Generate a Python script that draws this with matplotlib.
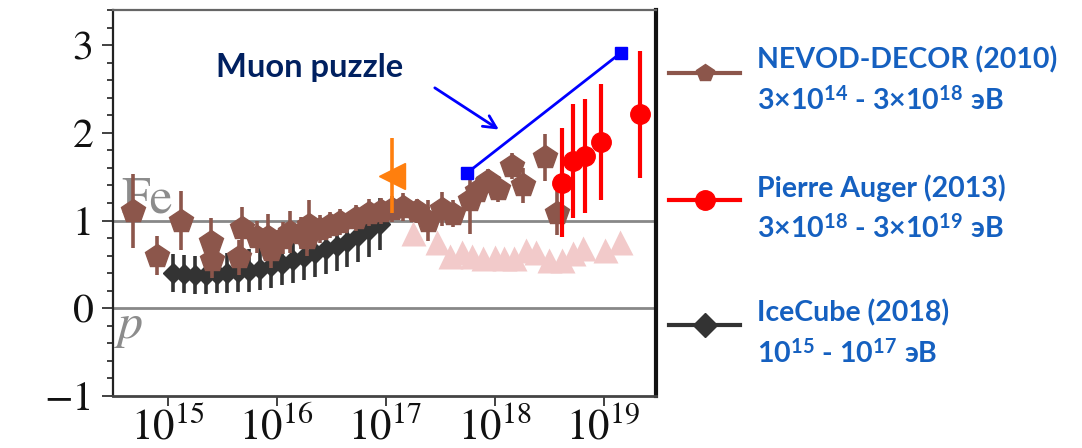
import numpy as np
import matplotlib
matplotlib.use("Agg")
import matplotlib.pyplot as plt
from matplotlib.lines import Line2D
from matplotlib.ticker import MultipleLocator, NullLocator, FixedLocator

# ---------------- data (log10 E [eV], z-value, errors) ----------------
nevod_logE = [14.68, 14.90, 15.12, 15.40, 15.41, 15.68, 15.66, 15.82, 15.92, 15.95,
              16.06, 16.12, 16.22, 16.30, 16.28, 16.40, 16.49, 16.58, 16.73, 16.85,
              16.96, 17.06, 17.16, 17.29, 17.39, 17.52, 17.62, 17.77, 17.84, 17.94,
              18.03, 18.16, 18.26, 18.46, 18.57]
nevod_z = [1.11, 0.60, 1.00, 0.75, 0.55, 0.91, 0.58, 0.81, 0.81, 0.66,
           0.80, 0.87, 0.86, 0.95, 0.80, 0.90, 0.95, 0.98, 1.03, 1.09,
           1.11, 1.13, 1.15, 1.11, 1.00, 1.13, 1.08, 1.23, 1.34, 1.45,
           1.36, 1.62, 1.40, 1.72, 1.09]
nevod_err = [0.42, 0.22, 0.34, 0.28, 0.20, 0.24, 0.20, 0.18, 0.27, 0.20,
             0.18, 0.24, 0.18, 0.28, 0.20, 0.16, 0.15, 0.15, 0.15, 0.15,
             0.15, 0.15, 0.16, 0.14, 0.23, 0.19, 0.15, 0.38, 0.15, 0.14,
             0.15, 0.15, 0.20, 0.27, 0.25]

ice_logE = [15.05, 15.15, 15.25, 15.35, 15.45, 15.55, 15.65, 15.75, 15.85, 15.95,
            16.05, 16.15, 16.25, 16.35, 16.45, 16.55, 16.65, 16.75, 16.85, 16.95]
ice_z = [0.40, 0.39, 0.38, 0.38, 0.39, 0.40, 0.41, 0.43, 0.45, 0.48,
         0.51, 0.55, 0.59, 0.63, 0.67, 0.71, 0.76, 0.82, 0.89, 0.96]
ice_err = [0.22, 0.22, 0.22, 0.22, 0.22, 0.23, 0.23, 0.24, 0.24, 0.25,
           0.25, 0.26, 0.27, 0.27, 0.28, 0.28, 0.29, 0.29, 0.30, 0.30]

auger_logE = [18.62, 18.72, 18.83, 18.98, 19.33]
auger_z = [1.43, 1.68, 1.74, 1.89, 2.21]
auger_err_lo = [0.62, 0.65, 0.65, 0.66, 0.73]
auger_err_hi = [0.63, 0.65, 0.65, 0.67, 0.72]

pink_logE = [17.25, 17.47, 17.59, 17.70, 17.79, 17.89, 18.00, 18.09, 18.18, 18.29,
             18.38, 18.50, 18.62, 18.72, 18.81, 19.01, 19.15]
pink_z = [0.86, 0.75, 0.60, 0.64, 0.60, 0.57, 0.58, 0.57, 0.57, 0.66,
          0.64, 0.55, 0.55, 0.63, 0.69, 0.66, 0.75]

orange_logE = [17.06]
orange_z = [1.51]
orange_err_lo = [0.42]
orange_err_hi = [0.43]

trend_logE = [17.75, 19.156]
trend_z = [1.545, 2.91]

arrow_from = (17.43, 2.53)
arrow_to = (18.06, 2.02)

xtick_logE = [15, 16, 17, 18, 19]
yticks = [-1, 0, 1, 2, 3]

legend_names = ["NEVOD-DECOR (2010)", "Pierre Auger (2013)", "IceCube (2018)"]
legend_ranges = [r"3×10$^{\mathdefault{14}}$ - 3×10$^{\mathdefault{18}}$ эВ",
                 r"3×10$^{\mathdefault{18}}$ - 3×10$^{\mathdefault{19}}$ эВ",
                 r"10$^{\mathdefault{15}}$ - 10$^{\mathdefault{17}}$ эВ"]

# ---------------- figure ----------------
plt.rcParams['mathtext.fontset'] = 'stix'
W, H = 1082, 448
fig = plt.figure(figsize=(W / 100, H / 100), dpi=100)
ax = fig.add_axes([113 / W, 1 - 396 / H, (656 - 113) / W, (396 - 10) / H])

E = lambda a: 10 ** np.asarray(a, dtype=float)

ax.set_xscale('log')
ax.set_xlim(10 ** 14.5, 10 ** 19.48)
ax.set_ylim(-1, 3.4)

ax.axhline(1, color='#888888', lw=2, zorder=0.5)
ax.axhline(0, color='#888888', lw=2, zorder=0.5)

ax.text(10 ** 14.575, 1.09, 'Fe', family='STIXGeneral', fontsize=37, color='#8c8c8c',
        va='baseline', ha='left', zorder=0.8)
ax.text(10 ** 14.54, -0.34, 'p', family='STIXGeneral', style='italic', fontsize=36,
        color='#8c8c8c', va='baseline', ha='left', zorder=0.8)

ax.plot(E(pink_logE), pink_z, '^', color='#f2caca', ms=18, mec='none', zorder=1.5)

ax.errorbar(E(ice_logE), ice_z, yerr=ice_err, fmt='D', color='#333333', ms=10.5,
            elinewidth=2.6, capsize=0, zorder=2)

ax.errorbar(E(nevod_logE), nevod_z, yerr=nevod_err, fmt='p', color='#8c564b', ms=18,
            elinewidth=2.6, capsize=0, zorder=4)

ax.errorbar(E(orange_logE), orange_z, yerr=[orange_err_lo, orange_err_hi], fmt='<',
            color='#ff7f0e', ms=19, elinewidth=2.6, capsize=0, zorder=5)

ax.errorbar(E(auger_logE), auger_z, yerr=[auger_err_lo, auger_err_hi], fmt='o',
            color='#ff0000', ms=14, elinewidth=3, capsize=0, zorder=6)

ax.plot(E(trend_logE), trend_z, '-s', color='#0000ff', lw=2, ms=8, zorder=7)
ax.annotate('', xy=(10 ** arrow_to[0], arrow_to[1]),
            xytext=(10 ** arrow_from[0], arrow_from[1]),
            arrowprops=dict(arrowstyle='->,head_length=0.9,head_width=0.45',
                            color='#0000ff', lw=2), zorder=7)

# ticks
ax.xaxis.set_major_locator(FixedLocator(E(xtick_logE)))
ax.xaxis.set_minor_locator(NullLocator())
ax.yaxis.set_major_locator(FixedLocator(yticks))
ax.yaxis.set_minor_locator(MultipleLocator(0.2))
ax.tick_params(axis='both', which='both', direction='out', color='#333333', width=1.3)
ax.tick_params(axis='y', which='major', length=8, pad=6, labelsize=30)
ax.tick_params(axis='y', which='minor', length=4.5)
ax.tick_params(axis='x', which='major', length=7, pad=0.5, labelsize=31)
for lbl in ax.get_yticklabels() + ax.get_xticklabels():
    lbl.set_family('STIXGeneral')
    lbl.set_color('#111111')

for side, (c, lw) in {'left': ('#222222', 1.6), 'bottom': ('#444444', 2.0),
                      'top': ('#666666', 1.6), 'right': ('#111111', 3.0)}.items():
    ax.spines[side].set_color(c)
    ax.spines[side].set_linewidth(lw)

fig.text(216 / W, 1 - 67 / H, 'Muon puzzle', family='Lato', weight='bold',
         fontsize=23.5, color='#002060', va='center', ha='left')

# legend (manual)
leg_y = [73, 200, 325]
leg_line_col = ['#8c564b', '#ff0000', '#333333']
leg_mark = ['p', 'o', 'D']
leg_ms = [13, 14, 12]
name_y = [60, 188, 313]
range_y = [100, 228, 353]
for i in range(3):
    yf = 1 - leg_y[i] / H
    fig.add_artist(Line2D([669 / W, 740 / W], [yf, yf], transform=fig.transFigure,
                          color=leg_line_col[i], lw=3))
    fig.add_artist(Line2D([705 / W], [yf], transform=fig.transFigure,
                          marker=leg_mark[i], ms=leg_ms[i], color=leg_line_col[i],
                          lw=0))
    fig.text(757 / W, 1 - name_y[i] / H, legend_names[i], family='Lato', weight='bold',
             fontsize=20.5, color='#1560c0', va='center', ha='left')
    fig.text(757 / W, 1 - range_y[i] / H, legend_ranges[i], family='Lato', weight='bold',
             fontsize=20.5, color='#1560c0', va='center', ha='left')

fig.savefig('out.png', dpi=100)
